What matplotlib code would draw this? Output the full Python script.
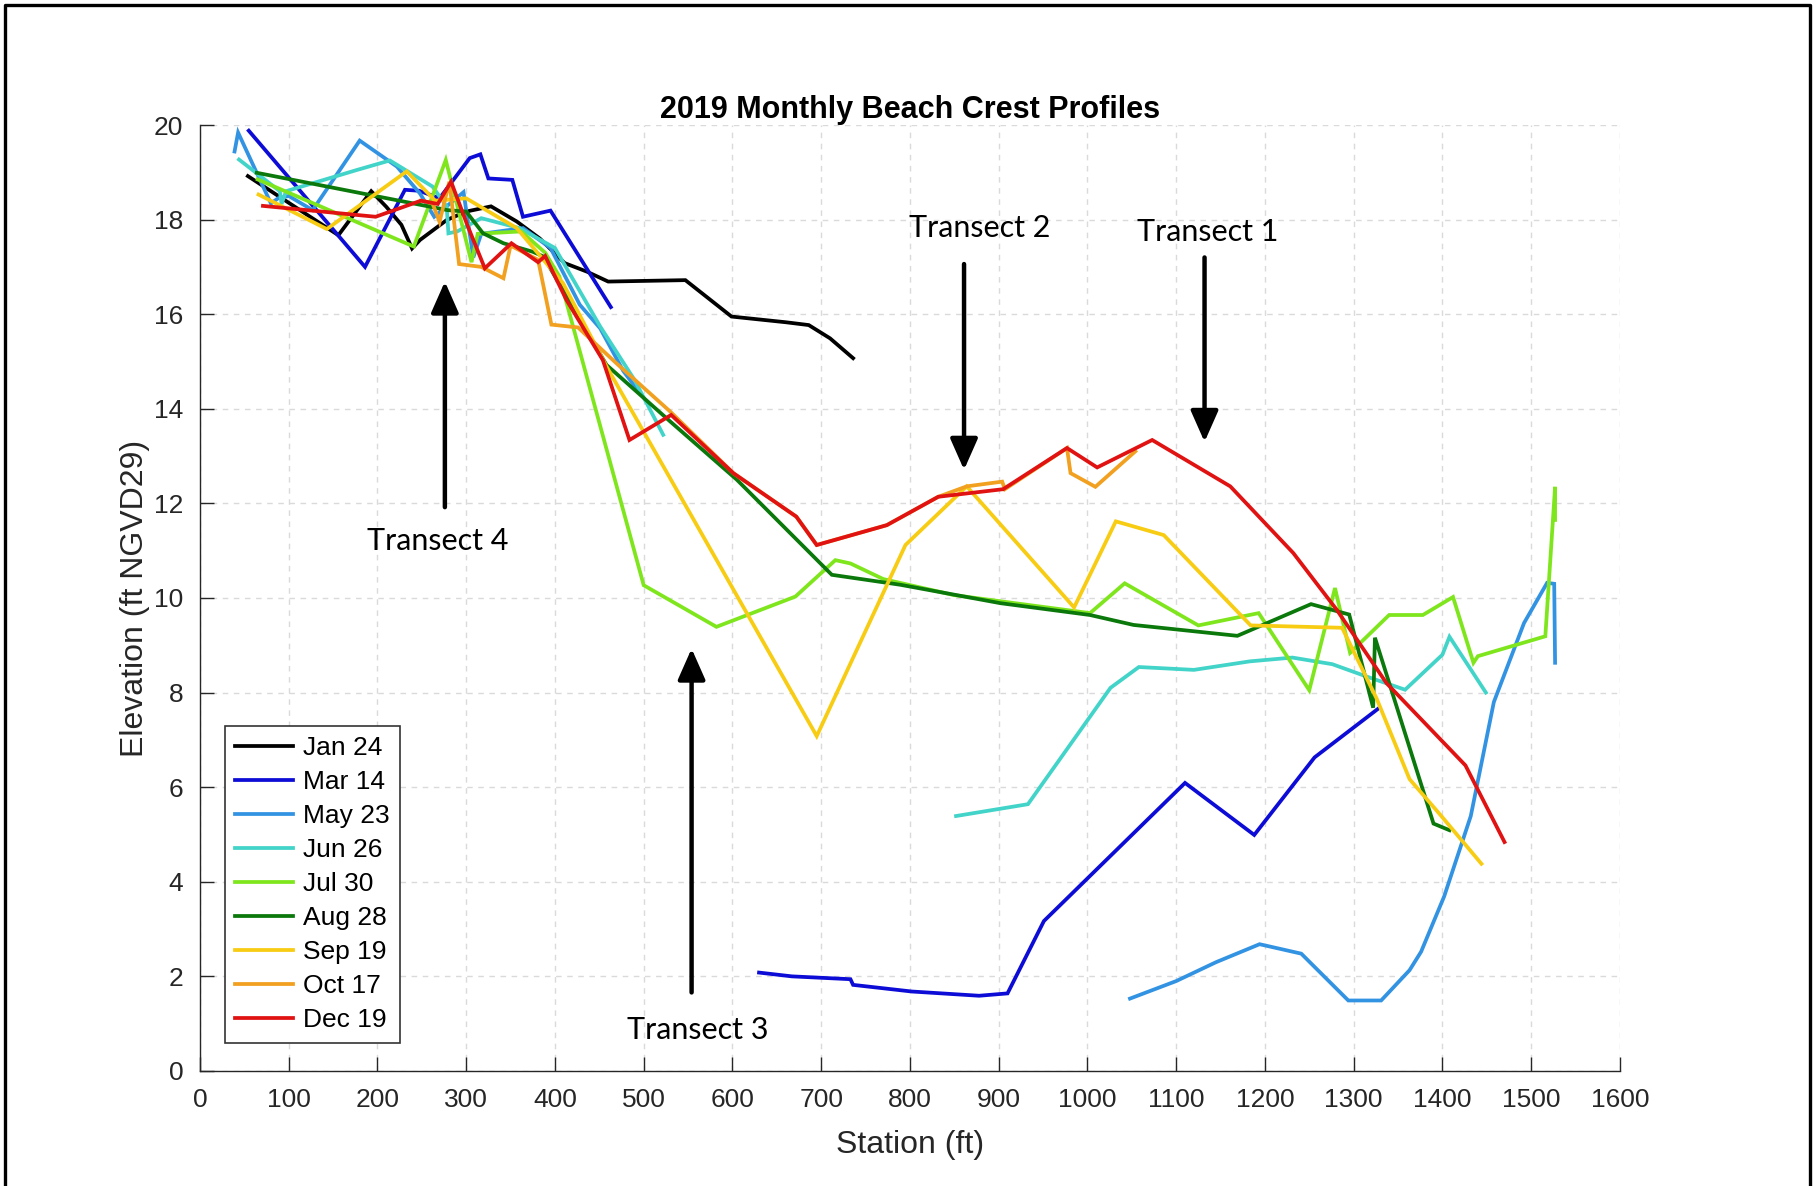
import matplotlib
matplotlib.use("Agg")
import matplotlib.pyplot as plt
import numpy as np
from matplotlib.lines import Line2D

# ---------------------------------------------------------------------------
# Survey data: station (ft) and crest elevation (ft NGVD29) per survey date.
# NaN marks a gap in a survey line.
# ---------------------------------------------------------------------------
nan = np.nan

jan_sta = [54, 156, 193, 210, 227, 239, 248, 278, 300, 328, 357, 383, 411, 436,
           460, 547, 599, 660, 686, 710, 736]
jan_elev = [18.92, 17.67, 18.6, 18.27, 17.89, 17.39, 17.57, 17.99, 18.17, 18.28,
            17.96, 17.6, 17.08, 16.9, 16.69, 16.72, 15.95, 15.83, 15.77, 15.49, 15.07]

mar_sta = [55, 186, 231, 247, 270, 304, 316, 325, 352, 364, 395, 463, nan,
           630, 667, 733, 736, 802, 878, 910, 951, 1110, 1188, 1256, 1327]
mar_elev = [19.88, 17.0, 18.63, 18.61, 18.45, 19.3, 19.38, 18.87, 18.84, 18.06,
            18.19, 16.15, nan,
            2.08, 2.0, 1.94, 1.82, 1.68, 1.59, 1.64, 3.17, 6.09, 4.99, 6.63, 7.65]

may_sta = [39, 43, 80, 88, 100, 127, 180, 222, 248, 264, 297, 308, 317, 364, 395,
           428, 451, 477, 495, nan,
           1048, 1100, 1145, 1194, 1241, 1294, 1331, 1363, 1376, 1402, 1432, 1458,
           1492, 1518, 1526, 1527]
may_elev = [19.44, 19.84, 18.34, 18.45, 18.5, 18.2, 19.67, 19.12, 18.55, 18.06,
            18.58, 17.2, 17.7, 17.82, 17.4, 16.2, 15.7, 14.8, 14.35, nan,
            1.53, 1.9, 2.3, 2.68, 2.48, 1.49, 1.49, 2.13, 2.52, 3.69, 5.39, 7.8,
            9.47, 10.32, 10.3, 8.63]

jun_sta = [44, 90, 92, 97, 177, 214, 262, 278, 280, 290, 317, 360, 400, 451, 490,
           522, nan,
           852, 933, 1026, 1058, 1120, 1183, 1231, 1276, 1313, 1358, 1400, 1408, 1449]
jun_elev = [19.27, 18.6, 18.33, 18.6, 19.05, 19.25, 18.7, 18.28, 17.71, 17.75,
            18.03, 17.82, 17.4, 15.74, 14.6, 13.45, nan,
            5.39, 5.64, 8.1, 8.54, 8.48, 8.66, 8.74, 8.6, 8.35, 8.06, 8.8, 9.18, 8.0]

jul_sta = [65, 241, 277, 306, 313, 362, 389, 405, 500, 582, 671, 716, 733, 770,
           850, 1003, 1042, 1125, 1193, 1250, 1279, 1296, 1340, 1378, 1412, 1435,
           1440, 1516, 1527, 1527]
jul_elev = [18.85, 17.43, 19.26, 17.1, 17.7, 17.75, 17.3, 16.8, 10.27, 9.39, 10.03,
            10.8, 10.73, 10.4, 10.06, 9.68, 10.31, 9.42, 9.68, 8.05, 10.21, 8.84,
            9.64, 9.64, 10.02, 8.63, 8.77, 9.19, 12.35, 11.65]

aug_sta = [64, 279, 300, 319, 342, 375, 387, 420, 458, 530, 605, 712, 789, 902,
           1003, 1052, 1169, 1252, 1295, 1322, 1324, 1390, 1408]
aug_elev = [18.99, 18.2, 18.17, 17.71, 17.5, 17.32, 17.22, 16.16, 14.93, 13.73,
            12.5, 10.49, 10.28, 9.89, 9.64, 9.43, 9.2, 9.87, 9.65, 7.68, 9.16,
            5.23, 5.09]

sep_sta = [66, 143, 233, 265, 300, 357, 409, 458, 695, 795, 864, 985, 1032, 1086,
           1184, 1287, 1326, 1363, 1397, 1444]
sep_elev = [18.53, 17.8, 19.02, 18.4, 18.45, 17.82, 16.66, 14.9, 7.08, 11.12,
            12.36, 9.8, 11.62, 11.33, 9.42, 9.37, 7.87, 6.17, 5.43, 4.38]

oct_sta = [249, 262, 270, 281, 292, 317, 342, 350, 381, 396, 426, 470, 530, 601,
           672, 695, 774, 832, 864, 904, 907, 977, 981, 1009, 1054]
oct_elev = [18.4, 18.35, 17.95, 18.8, 17.06, 17.0, 16.76, 17.45, 17.15, 15.78,
            15.72, 14.95, 13.94, 12.64, 11.72, 11.12, 11.54, 12.14, 12.36, 12.46,
            12.3, 13.17, 12.64, 12.35, 13.1]

dec_sta = [71, 198, 249, 268, 283, 302, 321, 351, 381, 389, 413, 454, 484, 531,
           601, 672, 695, 774, 832, 905, 977, 1011, 1073, 1161, 1232, 1281, 1337,
           1426, 1470]
dec_elev = [18.29, 18.06, 18.4, 18.33, 18.8, 17.85, 16.97, 17.5, 17.1, 17.23, 16.3,
            15.03, 13.34, 13.87, 12.64, 11.72, 11.12, 11.54, 12.14, 12.3, 13.17,
            12.76, 13.34, 12.36, 10.95, 9.75, 8.2, 6.46, 4.84]

surveys = [
    ("Jan 24", jan_sta, jan_elev, "#000000"),
    ("Mar 14", mar_sta, mar_elev, "#0c0cd6"),
    ("May 23", may_sta, may_elev, "#3393e3"),
    ("Jun 26", jun_sta, jun_elev, "#42d4c8"),
    ("Jul 30", jul_sta, jul_elev, "#7fe61e"),
    ("Aug 28", aug_sta, aug_elev, "#0b780b"),
    ("Sep 19", sep_sta, sep_elev, "#f7cc12"),
    ("Oct 17", oct_sta, oct_elev, "#f1a020"),
    ("Dec 19", dec_sta, dec_elev, "#e01212"),
]

# transect label text, label position, arrow tail and arrow head
transects = [
    ("Transect 2", (879, 17.82), (861, 17.06), (861, 12.71)),
    ("Transect 1", (1136, 17.74), (1132, 17.2), (1132, 13.3)),
    ("Transect 4", (268, 11.21), (276, 11.92), (276, 16.69)),
    ("Transect 3", (561, 0.87), (554, 1.66), (554, 8.93)),
]

plt.rcParams["font.family"] = ["Liberation Sans", "DejaVu Sans"]

fig = plt.figure(figsize=(18.16, 11.86), dpi=100)
ax = fig.add_axes([0.1101, 0.0970, 0.7819, 0.7976])

for label, sta, elev, color in surveys:
    ax.plot(sta, elev, color=color, lw=2.7, label=label, solid_joinstyle="miter")

for text, (tx, ty), tail, head in transects:
    ax.text(tx, ty, text, fontsize=22, family=["Lato", "DejaVu Sans"],
            ha="center", va="center")
    ax.annotate("", xy=head, xytext=tail,
                arrowprops=dict(arrowstyle="-|>,head_length=0.95,head_width=0.42",
                                color="black", lw=3.2, mutation_scale=20,
                                shrinkA=0, shrinkB=0))

ax.set_xlim(0, 1600)
ax.set_ylim(0, 20)
ax.set_xticks(np.arange(0, 1601, 100))
ax.set_yticks(np.arange(0, 21, 2))
ax.tick_params(direction="in", length=10, width=1, labelsize=19,
               colors="#262626", pad=12)
ax.grid(True, color="#dadada", linestyle=(0, (4, 4)), linewidth=1)
ax.set_axisbelow(True)
for side in ("top", "right"):
    ax.spines[side].set_visible(False)
for side in ("left", "bottom"):
    ax.spines[side].set_color("#262626")
    ax.spines[side].set_linewidth(1)

ax.set_xlabel("Station (ft)", fontsize=23, color="#262626", labelpad=13)
ax.set_ylabel("Elevation (ft NGVD29)", fontsize=23, color="#262626", labelpad=3)
ax.set_title("2019 Monthly Beach Crest Profiles", fontsize=22, fontweight="bold",
             pad=5)

leg = ax.legend(loc="lower left", bbox_to_anchor=(0.0175, 0.0296),
                borderaxespad=0, fontsize=19, fancybox=False, framealpha=1,
                edgecolor="#333333", labelspacing=0.38, handlelength=2.2,
                handletextpad=0.35, borderpad=0.4)
leg.get_frame().set_linewidth(1.2)

# outer frame drawn round the figure (open at the bottom edge)
W, H = 1816, 1186
frame_x = [5 / W, 5 / W, 1 - 6 / W, 1 - 6 / W]
frame_y = [0, 1 - 5 / H, 1 - 5 / H, 0]
fig.add_artist(Line2D(frame_x, frame_y, transform=fig.transFigure,
                      color="black", lw=2.4))

fig.savefig("out.png", dpi=100)
